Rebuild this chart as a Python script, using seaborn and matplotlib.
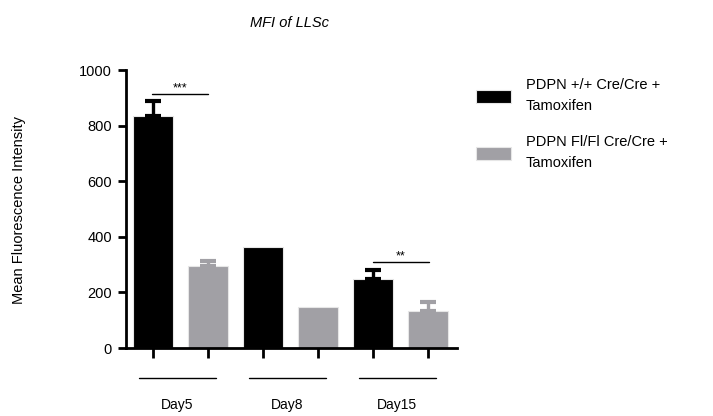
import matplotlib
matplotlib.use("Agg")
import matplotlib.pyplot as plt
import matplotlib.transforms as mtransforms
import seaborn as sns
import pandas as pd

days = ["Day5", "Day8", "Day15"]
groups = ["PDPN +/+ Cre/Cre +\nTamoxifen", "PDPN Fl/Fl Cre/Cre +\nTamoxifen"]
mean_wt = [834, 364, 247]
mean_fl = [295, 146, 134]
sem_wt = [54, 0, 34]
sem_fl = [18, 0, 33]
yticks = [0, 200, 400, 600, 800, 1000]

df = pd.DataFrame({
    "day": days * 2,
    "group": [groups[0]] * 3 + [groups[1]] * 3,
    "mfi": mean_wt + mean_fl,
    "sem": sem_wt + sem_fl,
})

sns.set_style("ticks")
plt.rcParams["font.family"] = ["Liberation Sans", "DejaVu Sans"]
plt.rcParams.update({"text.color": "black", "axes.labelcolor": "black",
                     "xtick.color": "black", "ytick.color": "black"})

fig = plt.figure(figsize=(7.13, 4.16), dpi=100)
ax = fig.add_axes([126 / 713, 1 - 348 / 416, (457 - 126) / 713, (348 - 70) / 416])

palette = {groups[0]: "#000000", groups[1]: "#a1a0a5"}
sns.barplot(data=df, x="day", y="mfi", hue="group", order=days, hue_order=groups,
            palette=palette, errorbar=None, width=1.0, gap=0.27, saturation=1,
            edgecolor="#e6e6e6", linewidth=0.8, ax=ax)

# upper-only error bars at each bar's centre
bar_containers = list(ax.containers)[:len(groups)]
bar_x = []
for g, cont in zip(groups, bar_containers):
    sub = df[df["group"] == g].set_index("day").loc[days]
    for bar, m, e in zip(cont, sub["mfi"], sub["sem"]):
        xc = bar.get_x() + bar.get_width() / 2
        bar_x.append(xc)
        if e > 0:
            ax.errorbar([xc], [m], yerr=[[0], [e]], fmt="none",
                        ecolor=palette[g], elinewidth=2.4, capsize=5.5, capthick=3.0)
bar_x = sorted(bar_x)

ax.set_ylim(0, 1000)
ax.set_xlim(-0.495, 2.514)
ax.set_yticks(yticks)
ax.set_yticklabels([str(v) for v in yticks], fontsize=10.5)
ax.set_xticks(bar_x)
ax.set_xticklabels([])
ax.tick_params(axis="x", length=7, width=2, direction="out")
ax.tick_params(axis="y", length=6, width=2, direction="out", pad=4)
for s in ["left", "bottom"]:
    ax.spines[s].set_linewidth(2)
    ax.spines[s].set_color("black")
sns.despine(ax=ax)
ax.set_xlabel("")
ax.set_ylabel("Mean Fluorescence Intensity", fontsize=10.5)
ax.yaxis.set_label_coords((26 - 126) / 331, (348 - 210) / 278)

# group lines and labels under the axis
trans = mtransforms.blended_transform_factory(ax.transData, ax.transAxes)
for i, d in enumerate(days):
    ax.plot([i - 0.38, i + 0.32], [-0.108, -0.108], color="black", lw=1,
            transform=trans, clip_on=False)
    ax.text(i - 0.03, -0.205, d, transform=trans, ha="center", va="center", fontsize=10)

# significance brackets
ax.plot([-0.26, 0.25], [914, 914], color="black", lw=1)
ax.text(0.0, 935, "***", ha="center", va="center", fontsize=9)
ax.plot([1.75, 2.26], [309, 309], color="black", lw=1)
ax.text(2.0, 330, "**", ha="center", va="center", fontsize=9)

ax.set_title("MFI of LLSc", fontsize=10.5, style="italic", x=(290 - 126) / 331, y=1.125)

handles, labels = ax.get_legend_handles_labels()
leg = ax.legend(handles, labels, loc="upper left", bbox_to_anchor=(476 / 713, 1 - 78 / 416),
                bbox_transform=fig.transFigure, frameon=False, fontsize=10.5,
                handlelength=2.4, handleheight=1.0, handletextpad=1.0,
                labelspacing=1.5, borderaxespad=0, borderpad=0)
for t in leg.get_texts():
    t.set_linespacing(1.65)

fig.savefig("out.png", dpi=100)
